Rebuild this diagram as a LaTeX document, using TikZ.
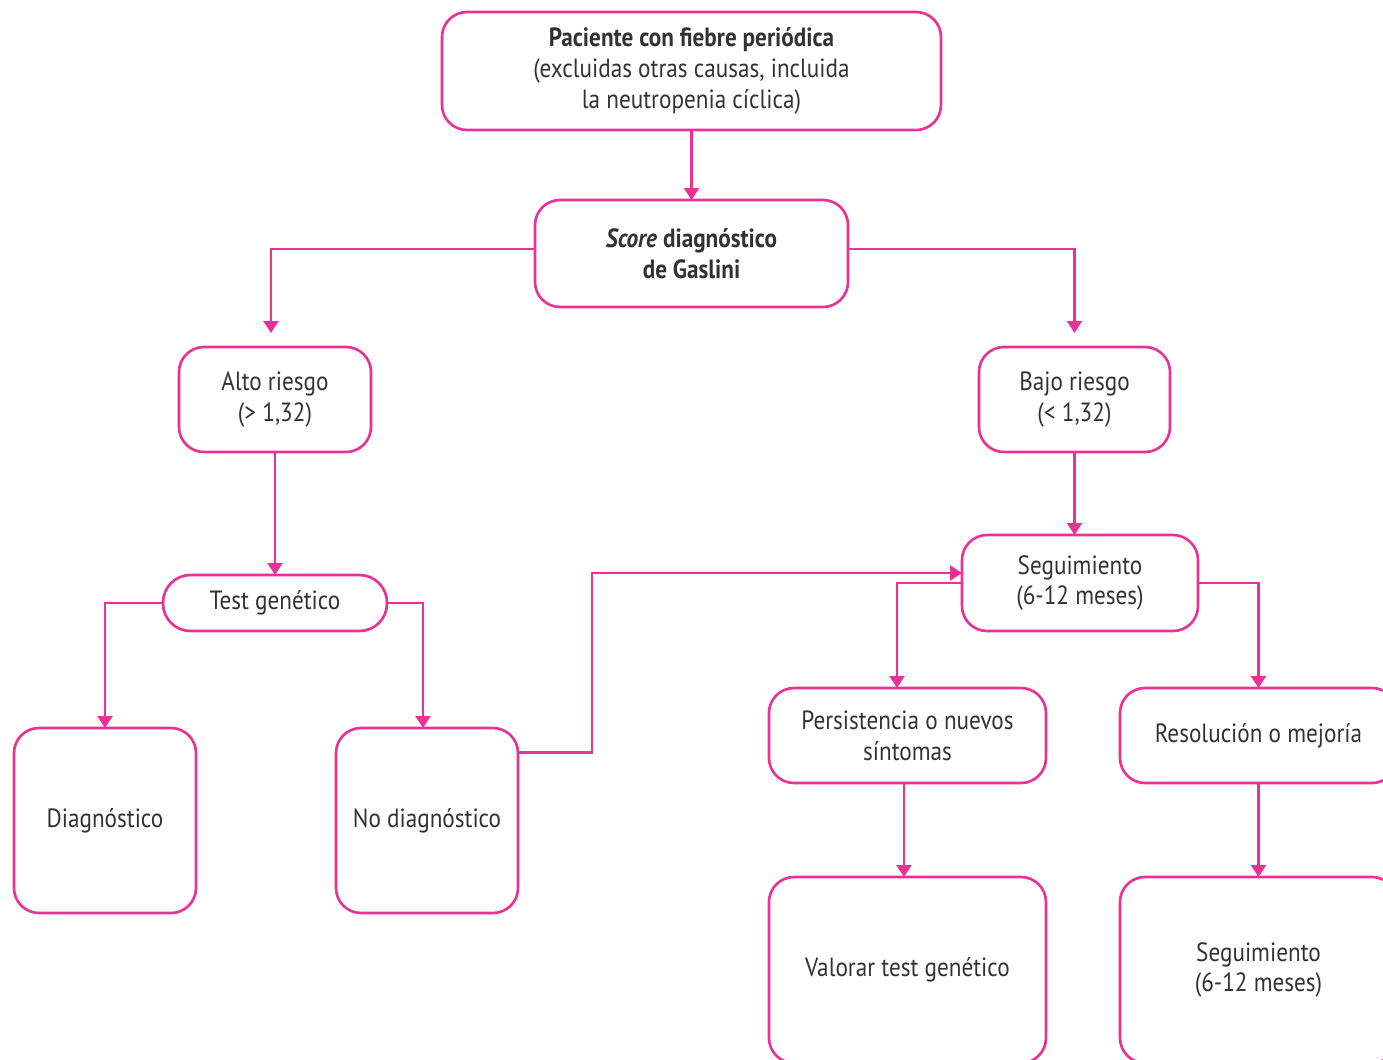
\documentclass[tikz,border=0pt]{standalone}
\usepackage{fontspec}
\setmainfont{PT Sans}[FakeStretch=0.88]
\usetikzlibrary{arrows.meta,positioning}
\definecolor{flowpink}{RGB}{234,50,150}
\definecolor{textgray}{RGB}{50,50,50}

\begin{document}
\begin{tikzpicture}[
    node distance=1cm,
    box/.style={rectangle, draw=flowpink, line width=1.5pt, outer sep=0pt, rounded corners=0.5cm, text=textgray, align=center, font=\fontsize{15}{17.5}\selectfont},
    pill/.style={box, rounded corners=0.55cm},
    arrow/.style={-{Triangle[width=0.3cm,length=0.24cm]}, draw=flowpink, line width=1.4pt}
]

\useasboundingbox (0,0) rectangle (27.66,-21.18);
\clip (0,0) rectangle (27.66,-21.18);

% Start
\node[box, minimum width=9.98cm, minimum height=2.36cm] (paciente) at (13.83,-1.42)
    {\textbf{Paciente con fiebre periódica}\\(excluidas otras causas, incluida\\la neutropenia cíclica)};
\node[box, minimum width=6.26cm, minimum height=2.14cm, below=1.4cm of paciente] (score)
    {\textbf{\textit{Score} diagnóstico}\\\textbf{de Gaslini}};

% Risk groups
\node[box, minimum width=3.84cm, minimum height=2.1cm, below=0.8cm of score, xshift=-8.33cm] (alto) {Alto riesgo\\(> 1,32)};
\node[box, minimum width=3.82cm, minimum height=2.1cm, below=0.8cm of score, xshift=7.66cm] (bajo) {Bajo riesgo\\(< 1,32)};

% High risk branch
\node[pill, minimum width=4.48cm, minimum height=1.12cm, below=2.46cm of alto] (test) {Test genético};
\node[box, minimum width=3.64cm, minimum height=3.7cm, below=1.94cm of test, xshift=-3.4cm] (diag) {Diagnóstico};
\node[box, minimum width=3.64cm, minimum height=3.7cm, below=1.94cm of test, xshift=3.04cm] (nodiag) {No diagnóstico};

% Low risk branch
\node[box, minimum width=4.72cm, minimum height=1.92cm, below=1.66cm of bajo, xshift=0.11cm] (segui) {Seguimiento\\(6-12 meses)};
\node[box, minimum width=5.54cm, minimum height=1.9cm, below=1.14cm of segui, xshift=-3.45cm] (persist) {Persistencia o nuevos\\síntomas};
\node[box, minimum width=5.54cm, minimum height=1.9cm, right=1.48cm of persist] (resol) {Resolución o mejoría};
\node[box, minimum width=5.54cm, minimum height=3.72cm, below=1.88cm of persist] (valorar) {Valorar test genético};
\node[box, minimum width=5.54cm, minimum height=3.72cm, below=1.88cm of resol] (segui2) {Seguimiento\\(6-12 meses)};

% Arrows
\draw[arrow] (paciente) -- (score);
\draw[arrow, shorten >=0.28cm] ([yshift=0.09cm]score.west) -| ([xshift=-0.08cm]alto.north);
\draw[arrow, shorten >=0.28cm] ([yshift=0.09cm]score.east) -| (bajo.north);
\draw[arrow] (alto) -- (test);
\draw[arrow] (test.west) -| (diag.north);
\draw[arrow] (test.east) -| ([xshift=-0.08cm]nodiag.north);
\draw[arrow] (bajo.south) -- (bajo.south |- segui.north);
\draw[arrow] ([yshift=1.36cm]nodiag.east) -- ++(1.48cm,0) |- ([yshift=0.2cm]segui.west);
\draw[arrow] (segui.west) -| ([xshift=-0.21cm]persist.north);
\draw[arrow] (segui.east) -| (resol.north);
\draw[arrow] ([xshift=-0.07cm]persist.south) -- ([xshift=-0.07cm]valorar.north);
\draw[arrow] (resol) -- (segui2);

\end{tikzpicture}
\end{document}
